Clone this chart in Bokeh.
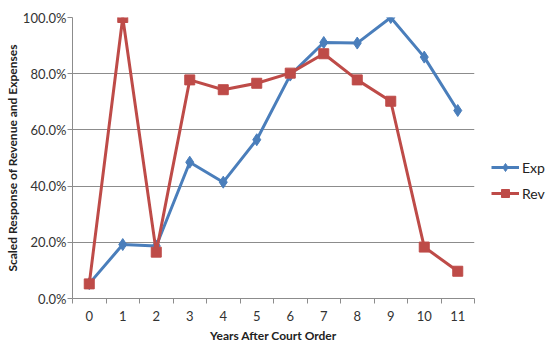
from bokeh.plotting import figure
from bokeh.models import FixedTicker, NumeralTickFormatter, Legend, LegendItem, Range1d, ColumnDataSource
from bokeh.embed import file_html
from bokeh.resources import INLINE

years = list(range(12))
year_labels = [str(y) for y in years]
exp_vals = [0.053, 0.192, 0.187, 0.485, 0.414, 0.565, 0.795, 0.911, 0.909, 1.0, 0.859, 0.669]
rev_vals = [0.052, 1.0, 0.165, 0.778, 0.743, 0.766, 0.802, 0.871, 0.778, 0.702, 0.183, 0.097]
y_ticks = [0.0, 0.2, 0.4, 0.6, 0.8, 1.0]

EXP_C = "#4A7EBB"
REV_C = "#BE4B48"
GRID_C = "#8C8C8C"
FONT = "Lato"

src = ColumnDataSource(dict(x=years, exp=exp_vals, rev=rev_vals))

p = figure(frame_width=402, frame_height=281, output_backend="svg", toolbar_location=None,
           min_border_left=72, min_border_top=17, min_border_bottom=49, min_border_right=0,
           x_range=Range1d(-0.5, 11.5), y_range=Range1d(0, 1))
p.outline_line_color = None
p.xgrid.grid_line_color = None
p.ygrid.grid_line_color = GRID_C
p.ygrid.grid_line_width = 1

p.xaxis.ticker = FixedTicker(ticks=years, minor_ticks=[y - 0.5 for y in years] + [11.5])
p.xaxis.major_label_overrides = {y: l for y, l in zip(years, year_labels)}
p.xaxis.major_tick_line_color = None
p.xaxis.major_tick_out = 5
p.xaxis.minor_tick_line_color = GRID_C
p.xaxis.minor_tick_out = 5
p.xaxis.minor_tick_in = 0
p.xaxis.axis_line_color = GRID_C
p.xaxis.major_label_standoff = 7
p.xaxis.axis_label = "Years After Court Order"
p.xaxis.axis_label_standoff = 4

p.yaxis.ticker = FixedTicker(ticks=y_ticks)
p.yaxis.formatter = NumeralTickFormatter(format="0.0%")
p.yaxis.major_tick_line_color = GRID_C
p.yaxis.major_tick_out = 5
p.yaxis.major_tick_in = 0
p.yaxis.minor_tick_line_color = None
p.yaxis.axis_line_color = GRID_C
p.yaxis.major_label_standoff = 1
p.yaxis.axis_label = "Scaled Response of Revenue and Expenses"
p.yaxis.axis_label_standoff = 0

for ax in (p.xaxis, p.yaxis):
    ax.major_label_text_font = FONT
    ax.major_label_text_font_size = "13px"
    ax.major_label_text_color = "#333333"
    ax.axis_label_text_font = FONT
    ax.axis_label_text_font_size = "12px"
    ax.axis_label_text_font_style = "bold"
    ax.axis_label_text_color = "#222222"

l1 = p.line("x", "exp", source=src, line_color=EXP_C, line_width=3)
m1 = p.scatter("x", "exp", source=src, marker="diamond", size=12, fill_color=EXP_C, line_color=EXP_C)
l2 = p.line("x", "rev", source=src, line_color=REV_C, line_width=3)
m2 = p.scatter("x", "rev", source=src, marker="square", size=10, fill_color=REV_C, line_color=REV_C)

legend = Legend(items=[LegendItem(label="Exp", renderers=[l1, m1]),
                       LegendItem(label="Rev", renderers=[l2, m2])],
                location=(17, 95), border_line_color=None, background_fill_alpha=0,
                padding=0, margin=0, spacing=6, label_height=20, glyph_height=20, glyph_width=28,
                label_standoff=3, label_text_font=FONT, label_text_font_size="14px",
                label_text_color="#222222")
p.add_layout(legend, "right")

open("out.html", "w").write(file_html(p, INLINE))
